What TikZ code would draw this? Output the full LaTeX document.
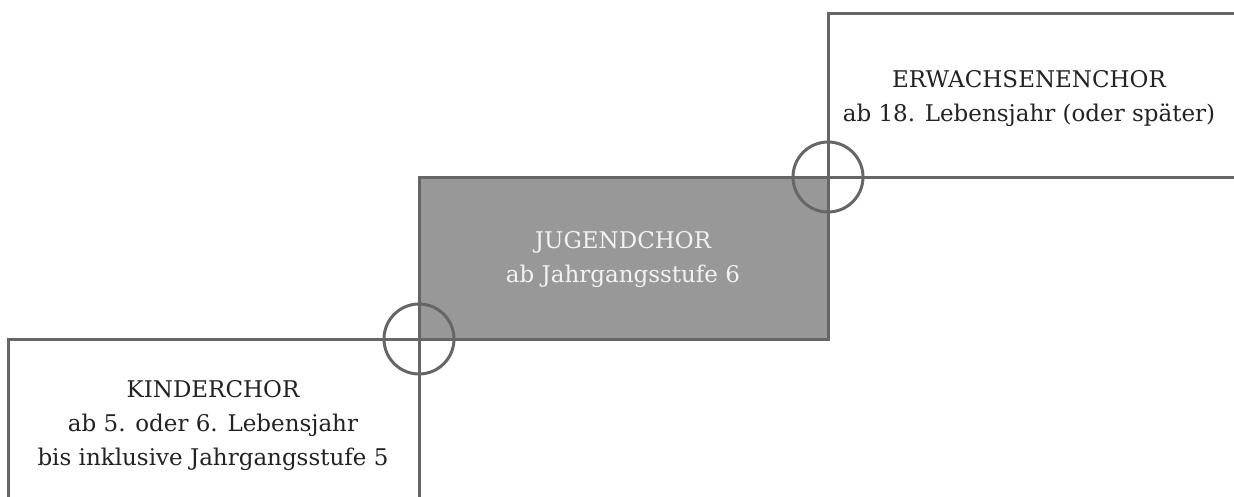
\documentclass[tikz,border=0pt]{standalone}
\usepackage{fontspec}
\setmainfont{DejaVu Serif}
\definecolor{linegray}{HTML}{666666}
\definecolor{fillgray}{HTML}{989898}
\definecolor{textdark}{HTML}{222222}
\definecolor{textlight}{HTML}{F2F2F2}
\begin{document}
\begin{tikzpicture}[x=1pt,y=-1pt,
  frame/.style={draw=linegray, line width=3pt, inner sep=0pt, outer sep=0pt, anchor=north west},
  caption/.style={align=center, font=\fontsize{23}{34}\selectfont, text=textdark},
  joint/.style={circle, draw=linegray, line width=3pt, minimum size=70pt, inner sep=0pt}]
\useasboundingbox (0,0) rectangle (1234,496);
% the three stages as stair steps
\node[frame, minimum width=411pt, minimum height=220pt] (kinder) at (8,339) {};
\node[frame, minimum width=440pt, minimum height=164pt] (erwachsen) at (828,13) {};
\node[frame, fill=fillgray, minimum width=409pt, minimum height=162pt] (jugend) at (419,177) {};
% circles marking the transitions
\node[joint] (j1) at (jugend.south west) {};
\node[joint] (j2) at (jugend.north east) {};
% labels
\node[caption] (tkinder) at (213,426) {KINDERCHOR\\ab 5. oder 6. Lebensjahr\\bis inklusive Jahrgangsstufe 5};
\node[caption, text=textlight] (tjugend) at (623,260) {JUGENDCHOR\\ab Jahrgangsstufe 6};
\node[caption] (terw) at (1029,99) {ERWACHSENENCHOR\\ab 18. Lebensjahr (oder später)};
\end{tikzpicture}
\end{document}
